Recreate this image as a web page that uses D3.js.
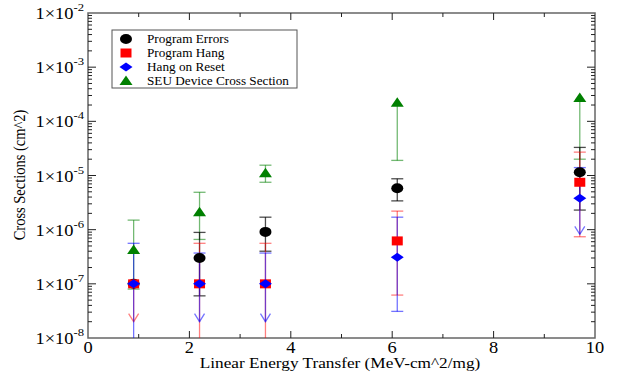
<!DOCTYPE html>
<html><head><meta charset="utf-8">
<script src="https://cdn.jsdelivr.net/npm/d3@7/dist/d3.min.js"></script>
<style>body{margin:0;background:#fff}svg{display:block}
svg text{font-family:"Liberation Serif","DejaVu Serif",serif}</style>
</head><body><svg id="c" width="618" height="374"></svg>
<script>
const let_x = [0.9, 2.2, 3.5, 6.1, 9.7];
const seriesNames = ["Program Errors", "Program Hang", "Hang on Reset", "SEU Device Cross Section"];
const errVal = [1e-7, 3e-7, 9.1e-7, 5.8e-6, 1.15e-5];
const errHi  = [null, 8.9e-7, 1.7e-6, 8.7e-6, 3.3e-5];
const errLo  = [null, 6e-8, 4e-7, 3.4e-6, 2.3e-6];
const hangVal = [1e-7, 1e-7, 1e-7, 6.2e-7, 7.5e-6];
const hangHi  = [null, 5.6e-7, 5.6e-7, 2.2e-6, 2.7e-5];
const hangLo  = [2e-8, 1e-8, 1e-8, 6.2e-8, 7.4e-7];
const hangArrow = [true, false, false, false, false];
const resetVal = [1e-7, 1e-7, 1e-7, 3.1e-7, 3.8e-6];
const resetHi  = [5.6e-7, 3.7e-7, 3.7e-7, 1.7e-6, 1.4e-5];
const resetLo  = [1e-8, 2e-8, 2e-8, 3.1e-8, 8.2e-7];
const resetArrow = [false, true, true, false, true];
const seuVal = [4.2e-7, 2.1e-6, 1.1e-5, 2.2e-4, 2.7e-4];
const seuHi  = [1.5e-6, 4.9e-6, 1.55e-5, null, null];
const seuLo  = [8e-8, 6.6e-7, 7.5e-6, 1.9e-5, 2.0e-5];
const xTicks = [0, 2, 4, 6, 8, 10];
const yExps = [-8, -7, -6, -5, -4, -3, -2];

const svg = d3.select("#c");
const L = 88, R = 595, T = 13, B = 338;
const x = d3.scaleLinear().domain([0, 10]).range([L, R]);
const y = d3.scaleLog().domain([1e-8, 1e-2]).range([B, T]);
const frame = "#666";
const SX = 1.15; // horizontal stretch of the reference's lettering

function txt(px, py, size, anchor) {
  return svg.append("text").attr("transform", `translate(${px},${py}) scale(${SX},1)`)
    .attr("font-size", size).attr("text-anchor", anchor);
}

svg.append("rect").attr("x", L).attr("y", T).attr("width", R - L).attr("height", B - T)
  .attr("fill", "none").attr("stroke", frame).attr("stroke-width", 1.5);

const g = svg.append("g").attr("stroke", "#222").attr("stroke-width", 1);
d3.range(1, 10, 1).forEach(v => {
  const len = (v % 2 === 0) ? 7 : 4;
  g.append("line").attr("x1", x(v)).attr("x2", x(v)).attr("y1", B).attr("y2", B - len);
  g.append("line").attr("x1", x(v)).attr("x2", x(v)).attr("y1", T).attr("y2", T + len);
});
for (let e = -8; e < -2; e++) {
  for (let m = 1; m <= 9; m++) {
    const v = m * Math.pow(10, e);
    const len = m === 1 ? 8 : 4;
    if (m === 1 && e === -8) continue;
    g.append("line").attr("x1", L).attr("x2", L + len).attr("y1", y(v)).attr("y2", y(v));
    g.append("line").attr("x1", R).attr("x2", R - len).attr("y1", y(v)).attr("y2", y(v));
  }
}

xTicks.forEach(v => { txt(x(v), B + 15, 16, "middle").text(v); });
yExps.forEach(e => {
  const t = txt(L - 4, y(Math.pow(10, e)) + 6, 16, "end");
  t.append("tspan").text("1\u00d710");
  t.append("tspan").attr("dy", -8).attr("font-size", 11).text(e);
});
txt(340, 368, 15, "middle").text("Linear Energy Transfer (MeV-cm^2/mg)");
svg.append("text").attr("transform", `translate(25,${175}) rotate(-90) scale(1,1.12)`)
  .attr("text-anchor", "middle").attr("font-size", 14.5).text("Cross Sections (cm^2)");

function errbars(val, hi, lo, arrow, color, op) {
  const eg = svg.append("g").attr("stroke", color).attr("stroke-opacity", op).attr("stroke-width", 1.3).attr("fill", "none");
  let_x.forEach((xv, i) => {
    const px = x(xv);
    const top = hi[i] != null ? y(hi[i]) : y(val[i]);
    const bot = lo[i] != null ? y(Math.max(lo[i], 1e-8)) : y(val[i]);
    eg.append("line").attr("x1", px).attr("x2", px).attr("y1", top).attr("y2", bot);
    if (hi[i] != null) eg.append("line").attr("x1", px - 6).attr("x2", px + 6).attr("y1", top).attr("y2", top);
    if (lo[i] != null && lo[i] > 1e-8) {
      if (arrow[i]) {
        eg.append("path").attr("d", `M${px - 5},${bot - 8}L${px},${bot}L${px + 5},${bot - 8}`);
      } else {
        eg.append("line").attr("x1", px - 6).attr("x2", px + 6).attr("y1", bot).attr("y2", bot);
      }
    }
  });
}
const noArrow = [false, false, false, false, false];
errbars(seuVal, seuHi, seuLo, noArrow, "green", 0.55);
errbars(errVal, errHi, errLo, noArrow, "#000", 0.7);
errbars(hangVal, hangHi, hangLo, hangArrow, "red", 0.5);
errbars(resetVal, resetHi, resetLo, resetArrow, "blue", 0.55);

const shp = {
  c: "M-6,0A6,5 0 1,0 6,0A6,5 0 1,0 -6,0Z",
  s: "M-5.5,-4.5H5.5V4.5H-5.5Z",
  d: "M-6.5,0L0,-4.5L6.5,0L0,4.5Z",
  t: "M-6.5,4L0,-5.5L6.5,4Z"
};
function marks(val, s, color) {
  svg.append("g").selectAll("path").data(val).join("path")
    .attr("d", s).attr("fill", color)
    .attr("transform", (d, i) => `translate(${x(let_x[i])},${y(d)})`);
}
marks(seuVal, shp.t, "green");
marks(errVal, shp.c, "#000");
marks(hangVal, shp.s, "red");
marks(resetVal, shp.d, "blue");

const lg = svg.append("g");
lg.append("rect").attr("x", 112).attr("y", 30).attr("width", 185).attr("height", 58)
  .attr("fill", "#fff").attr("stroke", "#555").attr("stroke-width", 1);
const legSyms = [[shp.c, "#000"], [shp.s, "red"], [shp.d, "blue"], [shp.t, "green"]];
seriesNames.forEach((n, i) => {
  const yy = 39 + i * 14;
  lg.append("path").attr("d", legSyms[i][0]).attr("fill", legSyms[i][1])
    .attr("transform", `translate(126,${yy})`);
  txt(147, yy + 4, 11.5, "start").text(n);
});
</script></body></html>
